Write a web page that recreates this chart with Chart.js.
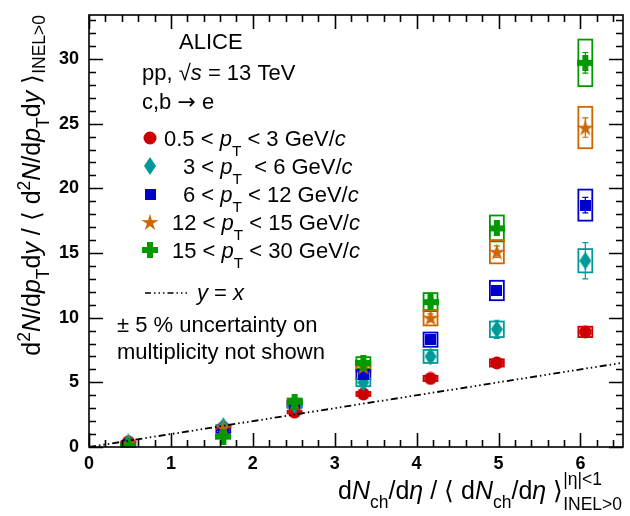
<!DOCTYPE html>
<html>
<head>
<meta charset="utf-8">
<script src="https://cdn.jsdelivr.net/npm/chart.js@4.4.1/dist/chart.umd.min.js"></script>
<style>html,body{margin:0;padding:0;background:#fff}</style>
</head>
<body>
<canvas id="c" width="630" height="516"></canvas>
<script>
// multiplicity classes (x)
const multX = [0.48, 1.64, 2.51, 3.35, 4.17, 4.98, 6.06];
// self-normalised yields per pT interval
const yPt05to3 = [0.40, 1.50, 2.70, 4.10, 5.30, 6.50, 8.90];
const yPt3to6 = [0.35, 1.60, 3.25, 5.00, 7.00, 9.10, 14.4];
const yPt6to12 = [0.20, 1.20, 3.30, 5.60, 8.30, 12.1, 18.7];
const yPt12to15 = [0.30, 1.50, 3.40, 6.20, 10.0, 15.1, 24.7];
const yPt15to30 = [0.05, 0.80, 3.50, 6.50, 11.2, 16.9, 29.7];
// systematic (box half height)
const sys05to3 = [0.03, 0.06, 0.10, 0.15, 0.20, 0.28, 0.40];
const sys3to6 = [0.04, 0.10, 0.20, 0.30, 0.50, 0.60, 0.90];
const sys6to12 = [0.04, 0.10, 0.25, 0.35, 0.55, 0.75, 1.20];
const sys12to15 = [0.04, 0.10, 0.25, 0.40, 0.60, 0.90, 1.60];
const sys15to30 = [0.04, 0.10, 0.25, 0.45, 0.70, 1.00, 1.80];
// statistical (bar half length)
const stat05to3 = [0.01, 0.02, 0.03, 0.04, 0.05, 0.08, 0.12];
const stat3to6 = [0.02, 0.05, 0.08, 0.12, 0.30, 0.70, 1.40];
const stat6to12 = [0.02, 0.05, 0.08, 0.12, 0.20, 0.35, 0.60];
const stat12to15 = [0.02, 0.05, 0.10, 0.15, 0.30, 0.45, 0.75];
const stat15to30 = [0.02, 0.05, 0.10, 0.15, 0.30, 0.45, 0.80];
// y = x reference
const unityX = [0, 6.52];
const unityY = [0, 6.52];
const xTicks = [0, 1, 2, 3, 4, 5, 6];
const yTicks = [0, 5, 10, 15, 20, 25, 30];

const FONT = '"Liberation Sans", Arial, sans-serif';

// marker images
function mk(w, h, draw) {
  const c = document.createElement('canvas');
  c.width = w; c.height = h;
  draw(c.getContext('2d'), w, h);
  return c;
}
const redC = '#cc0000', cyanC = '#009999', blueC = '#0000cc', orangeC = '#cc6600', greenC = '#009900';
const mCircle = mk(14, 14, (g) => { g.fillStyle = redC; g.beginPath(); g.arc(7, 7, 6.5, 0, Math.PI * 2); g.fill(); });
const mDiamond = mk(12, 18, (g, w, h) => { g.fillStyle = cyanC; g.beginPath(); g.moveTo(w / 2, 0); g.lineTo(w, h / 2); g.lineTo(w / 2, h); g.lineTo(0, h / 2); g.closePath(); g.fill(); });
const mSquare = mk(11, 11, (g, w, h) => { g.fillStyle = blueC; g.fillRect(0, 0, w, h); });
const mStar = mk(18, 18, (g) => {
  g.fillStyle = orangeC; g.beginPath();
  for (let i = 0; i < 10; i++) {
    const r = i % 2 ? 3.2 : 9, a = -Math.PI / 2 + i * Math.PI / 5;
    g.lineTo(9 + r * Math.cos(a), 9.8 + r * Math.sin(a));
  }
  g.closePath(); g.fill();
});
const mPlus = mk(16, 16, (g) => { g.fillStyle = greenC; g.fillRect(5, 0, 6, 16); g.fillRect(0, 5, 16, 6); });

const series = [
  { label: '0.5-3', y: yPt05to3, sys: sys05to3, stat: stat05to3, color: redC, img: mCircle },
  { label: '3-6', y: yPt3to6, sys: sys3to6, stat: stat3to6, color: cyanC, img: mDiamond },
  { label: '6-12', y: yPt6to12, sys: sys6to12, stat: stat6to12, color: blueC, img: mSquare },
  { label: '12-15', y: yPt12to15, sys: sys12to15, stat: stat12to15, color: orangeC, img: mStar },
  { label: '15-30', y: yPt15to30, sys: sys15to30, stat: stat15to30, color: greenC, img: mPlus }
];
// draw order: last legend entry first so the low-pT points sit on top
const drawOrder = [4, 3, 2, 1, 0];

// rich text: segments {t, i, sub, sup, stack:[sup,sub]}
function segFont(s, size) {
  return (s.i ? 'italic ' : '') + size + 'px ' + (s.f || FONT);
}
function richWidth(g, segs, size) {
  let w = 0;
  segs.forEach(s => {
    if (s.stack) {
      g.font = segFont({}, size * 0.7);
      w += Math.max(g.measureText(s.stack[0]).width, g.measureText(s.stack[1]).width);
    } else {
      const sz = (s.sub || s.sup) ? size * 0.7 : size;
      g.font = segFont(s, sz);
      w += g.measureText(s.t).width;
    }
  });
  return w;
}
function rich(g, x, y, segs, size) {
  g.textAlign = 'left';
  g.textBaseline = 'alphabetic';
  segs.forEach(s => {
    if (s.stack) {
      g.font = segFont({}, size * 0.7);
      g.fillText(s.stack[0], x, y - size * 0.55);
      g.fillText(s.stack[1], x, y + size * 0.45);
      x += Math.max(g.measureText(s.stack[0]).width, g.measureText(s.stack[1]).width);
      return;
    }
    let sz = size, dy = 0;
    if (s.sub) { sz = size * 0.7; dy = s.dy !== undefined ? s.dy : size * 0.35; }
    if (s.sup) { sz = size * 0.7; dy = -size * 0.4; }
    g.font = segFont(s, sz);
    g.fillText(s.t, x, y + dy);
    x += g.measureText(s.t).width;
  });
}

const errorPlugin = {
  id: 'errors',
  beforeDatasetsDraw(chart) {
    const g = chart.ctx, xs = chart.scales.x, ys = chart.scales.y;
    g.save();
    drawOrder.forEach(k => {
      const s = series[k];
      g.strokeStyle = s.color;
      multX.forEach((x, j) => {
        const x0 = xs.getPixelForValue(x - 0.085), x1 = xs.getPixelForValue(x + 0.085);
        const y0 = ys.getPixelForValue(s.y[j] + s.sys[j]), y1 = ys.getPixelForValue(s.y[j] - s.sys[j]);
        g.lineWidth = 1.8;
        g.strokeRect(x0, y0, x1 - x0, y1 - y0);
        const xp = xs.getPixelForValue(x);
        const a = ys.getPixelForValue(s.y[j] + s.stat[j]), b = ys.getPixelForValue(s.y[j] - s.stat[j]);
        g.lineWidth = 1.2;
        g.beginPath();
        g.moveTo(xp, a); g.lineTo(xp, b);
        g.moveTo(xp - 3, a); g.lineTo(xp + 3, a);
        g.moveTo(xp - 3, b); g.lineTo(xp + 3, b);
        g.stroke();
      });
    });
    g.restore();
  },
  afterDraw(chart) {
    const g = chart.ctx, xs = chart.scales.x, ys = chart.scales.y;
    const a = chart.chartArea;
    g.save();
    // frame and inward ticks on all sides
    g.strokeStyle = '#000';
    g.lineWidth = 1.6;
    g.strokeRect(a.left, a.top, a.right - a.left, a.bottom - a.top);
    g.beginPath();
    for (let v = 0; v <= 6.52; v += 0.2) {
      const p = Math.round(xs.getPixelForValue(v)) + 0.5;
      const major = Math.abs(v - Math.round(v)) < 1e-6;
      const L = major ? 14 : 7;
      g.moveTo(p, a.bottom); g.lineTo(p, a.bottom - L);
      g.moveTo(p, a.top); g.lineTo(p, a.top + L);
    }
    for (let v = 0; v <= 33.4; v += 1) {
      const p = Math.round(ys.getPixelForValue(v)) + 0.5;
      const L = v % 5 === 0 ? 14 : 7;
      g.moveTo(a.left, p); g.lineTo(a.left + L, p);
      g.moveTo(a.right, p); g.lineTo(a.right - L, p);
    }
    g.stroke();

    g.fillStyle = '#000';
    // x title
    const xt = [
      { t: 'd' }, { t: 'N', i: 1 }, { t: 'ch', sub: 1 }, { t: '/d' }, { t: 'η', i: 1 },
      { t: ' / ⟨ d' }, { t: 'N', i: 1 }, { t: 'ch', sub: 1 }, { t: '/d' }, { t: 'η', i: 1 },
      { t: ' ⟩' }, { stack: ['|η|<1', 'INEL>0'] }
    ];
    const xw = richWidth(g, xt, 25);
    rich(g, 622 - xw, 499, xt, 25);

    // y title (rotated)
    const yt = [
      { t: 'd' }, { t: '2', sup: 1 }, { t: 'N', i: 1 }, { t: '/d' }, { t: 'p', i: 1 }, { t: 'T', sub: 1, dy: 9 },
      { t: 'd' }, { t: 'y', i: 1 }, { t: ' / ⟨ d' }, { t: '2', sup: 1 }, { t: 'N', i: 1 }, { t: '/d' },
      { t: 'p', i: 1 }, { t: 'T', sub: 1, dy: 9 }, { t: 'd' }, { t: 'y', i: 1 }, { t: ' ⟩' },
      { t: 'INEL>0', sub: 1, dy: 5 }
    ];
    const yw = richWidth(g, yt, 25);
    g.save();
    g.translate(40, 0);
    g.rotate(-Math.PI / 2);
    rich(g, -15 - yw, 0, yt, 25);
    g.restore();

    // legend block
    const fs = 22;
    rich(g, 179, 49, [{ t: 'ALICE' }], fs);
    rich(g, 142, 80, [{ t: 'pp, √' }, { t: 's', i: 1 }, { t: ' = 13 TeV' }], fs);
    rich(g, 142, 109, [{ t: 'c,b ' }, { t: '→', f: '"DejaVu Sans", sans-serif' }, { t: ' e' }], fs);
    const rows = [
      { y: 138, x: 164, lo: '0.5 < ', hi: ' < 3 GeV/' },
      { y: 166, x: 183, lo: '3 < ', hi: '  < 6 GeV/' },
      { y: 194, x: 183, lo: '6 < ', hi: ' < 12 GeV/' },
      { y: 222, x: 172, lo: '12 < ', hi: ' < 15 GeV/' },
      { y: 250, x: 172, lo: '15 < ', hi: ' < 30 GeV/' }
    ];
    rows.forEach((r, k) => {
      const im = series[k].img;
      g.drawImage(im, 150 - im.width / 2, r.y - im.height / 2);
      rich(g, r.x, r.y + 7.5, [{ t: r.lo }, { t: 'p', i: 1 }, { t: 'T', sub: 1, dy: 10 }, { t: r.hi }, { t: 'c', i: 1 }], fs);
    });
    g.strokeStyle = '#000';
    g.lineWidth = 1.5;
    g.setLineDash([6, 3, 1.5, 3, 1.5, 3, 1.5, 3]);
    g.beginPath(); g.moveTo(145, 293); g.lineTo(187, 293); g.stroke();
    g.setLineDash([]);
    rich(g, 197, 300, [{ t: 'y', i: 1 }, { t: ' = ' }, { t: 'x', i: 1 }], fs);
    rich(g, 117, 332, [{ t: '± 5 % uncertainty on' }], fs);
    rich(g, 117, 359, [{ t: 'multiplicity not shown' }], fs);
    g.restore();
  }
};

const datasets = [{
  type: 'line',
  data: unityX.map((x, j) => ({ x: x, y: unityY[j] })),
  borderColor: '#000',
  borderWidth: 1.8,
  borderDash: [7, 3, 1.5, 3, 1.5, 3, 1.5, 3],
  pointRadius: 0,
  fill: false
}];
drawOrder.forEach(k => {
  const s = series[k];
  datasets.push({
    label: s.label,
    data: multX.map((x, j) => ({ x: x, y: s.y[j] })),
    pointStyle: s.img,
    backgroundColor: s.color,
    borderColor: s.color,
    pointRadius: 6
  });
});

new Chart(document.getElementById('c'), {
  type: 'scatter',
  data: { datasets: datasets },
  options: {
    responsive: false,
    animation: false,
    layout: { padding: { top: 15, right: 7, left: 0, bottom: 0 } },
    plugins: { legend: { display: false }, tooltip: { enabled: false } },
    scales: {
      x: {
        type: 'linear', min: 0, max: 6.52,
        afterFit: (s) => { s.height = 69; s.paddingLeft = 0; s.paddingRight = 0; },
        afterBuildTicks: (s) => { s.ticks = xTicks.map(v => ({ value: v })); },
        grid: { display: false, drawTicks: false },
        border: { display: false },
        ticks: { padding: 6, color: '#000', font: { family: FONT, size: 18, weight: 'bold' } }
      },
      y: {
        type: 'linear', min: 0, max: 33.4,
        afterFit: (s) => { s.width = 89; s.paddingTop = 0; s.paddingBottom = 0; },
        afterBuildTicks: (s) => { s.ticks = yTicks.map(v => ({ value: v })); },
        grid: { display: false, drawTicks: false },
        border: { display: false },
        ticks: { padding: 10, color: '#000', font: { family: FONT, size: 18, weight: 'bold' } }
      }
    }
  },
  plugins: [errorPlugin]
});
</script>
</body>
</html>
